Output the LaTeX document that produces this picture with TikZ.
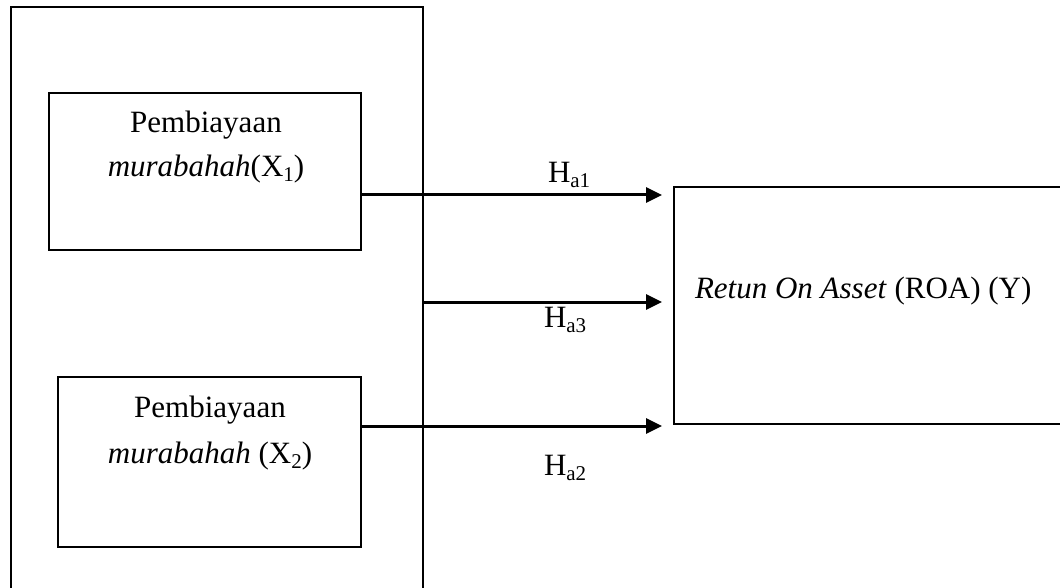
\documentclass[tikz,border=0pt]{standalone}
\usepackage{fontspec}
\setmainfont{Liberation Serif}
\usetikzlibrary{arrows.meta}
\newcommand{\sbs}[1]{\raisebox{-5pt}{\fontsize{21}{21}\selectfont #1}}
\begin{document}
\begin{tikzpicture}[x=1pt,y=-1pt,
  boxline/.style={draw=black,line width=2.2pt,fill=none,inner sep=0pt,outer sep=0pt},
  txt/.style={inner sep=0pt,outer sep=0pt,font=\fontsize{31}{36}\selectfont},
  lbl/.style={inner sep=0pt,outer sep=0pt,font=\fontsize{31}{36}\selectfont},
  arr/.style={line width=3pt,-{Triangle[length=16pt,width=15pt]}}]
\useasboundingbox (0,0) rectangle (1060,588);
\clip (0,0) rectangle (1060,588);
% outer frame (open at the bottom)
\node[boxline,minimum width=412pt,minimum height=620pt] (outer) at (217,317) {};
% box 1
\node[boxline,minimum width=312pt,minimum height=157pt] (b1) at (205,171.5) {};
\node[txt,anchor=base] (b1l1) at (206,133) {Pembiayaan};
\node[txt,anchor=base] (b1l2) at (206,177) {\textit{murabahah}(X\sbs{1})};
% box 2
\node[boxline,minimum width=303pt,minimum height=170pt] (b2) at (209.5,462) {};
\node[txt,anchor=base] (b2l1) at (210,417) {Pembiayaan};
\node[txt,anchor=base] (b2l2) at (210,463) {\textit{murabahah} (X\sbs{2})};
% right box (open at the right)
\node[boxline,minimum width=420pt,minimum height=237pt] (roa) at (884,305.5) {};
\node[txt,anchor=base west] (roat) at (695,298) {\textit{Retun On Asset} (ROA) (Y)};
% arrows
\coordinate (e1) at (662,195);
\coordinate (e3) at (662,302);
\coordinate (e2) at (662,426);
\draw[arr] (b1.east |- e1) -- (e1);
\draw[arr] (outer.east |- e3) -- (e3);
\draw[arr] (b2.east |- e2) -- (e2);
% labels
\node[lbl,anchor=base west] (h1) at (548,183) {H\sbs{a1}};
\node[lbl,anchor=base west] (h3) at (544,327) {H\sbs{a3}};
\node[lbl,anchor=base west] (h2) at (544,475) {H\sbs{a2}};
\end{tikzpicture}
\end{document}
